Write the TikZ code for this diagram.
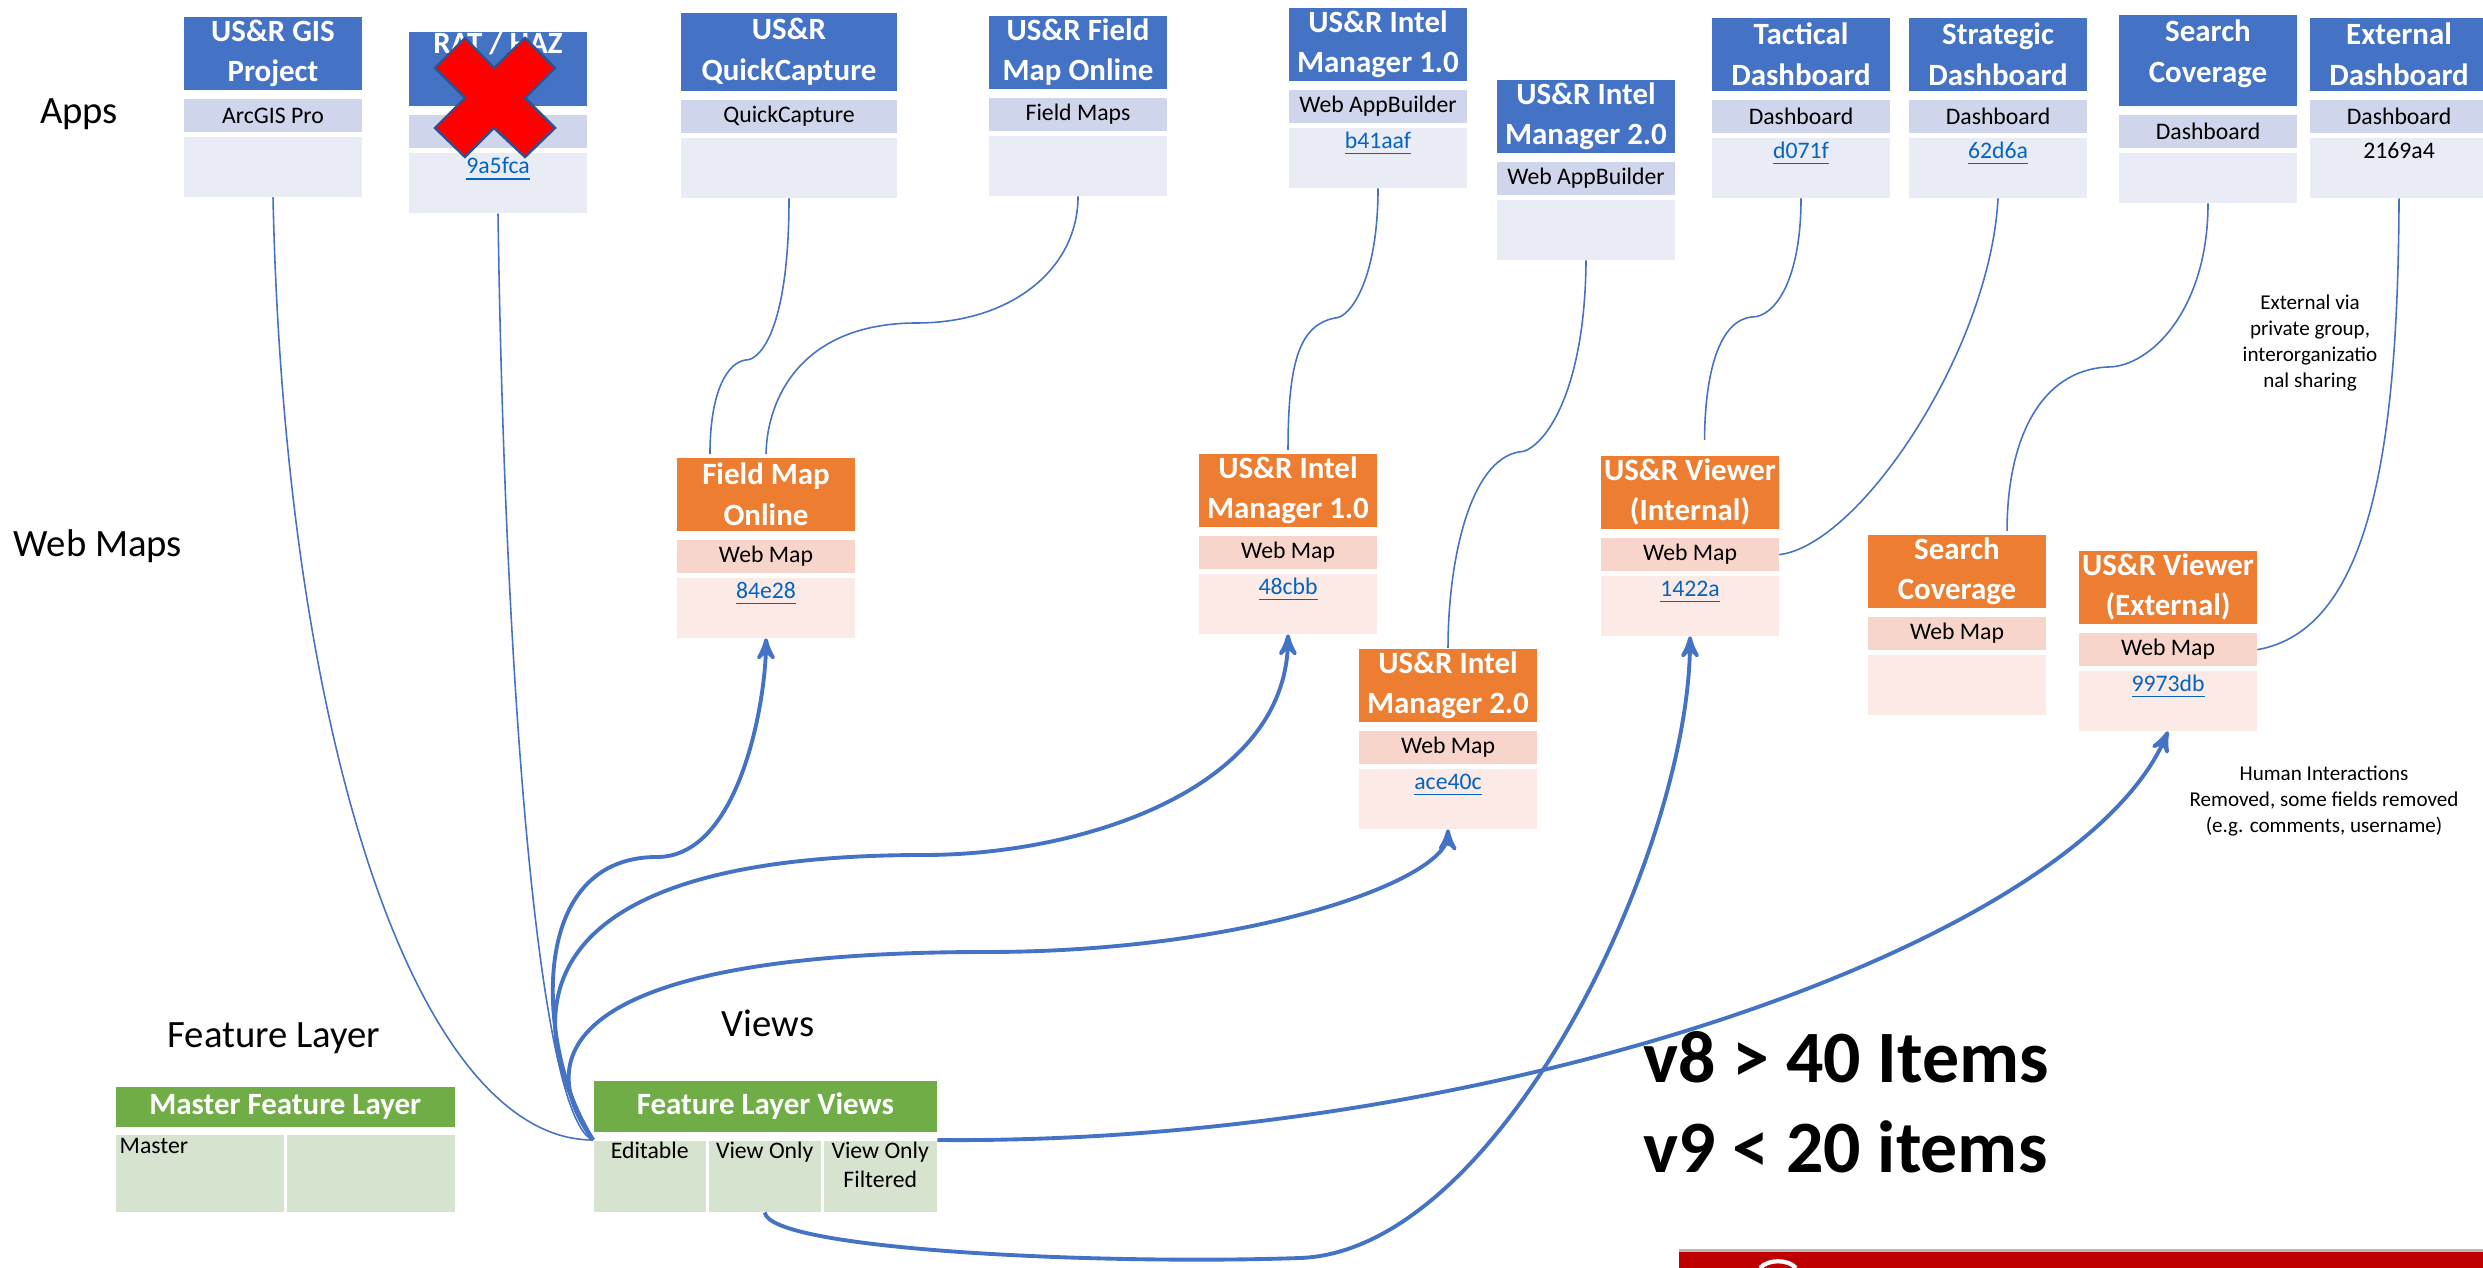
\documentclass[tikz,border=0pt]{standalone}
\usepackage{fontspec}
\setmainfont{Carlito}
\usepackage{tikz}
\usetikzlibrary{arrows,positioning}
\definecolor{bleu}{HTML}{4472C4}
\definecolor{bleuA}{HTML}{CFD5EA}
\definecolor{bleuB}{HTML}{E9EBF5}
\definecolor{orangeT}{HTML}{ED7D31}
\definecolor{orangeA}{HTML}{F8D5CB}
\definecolor{orangeB}{HTML}{FBEAE5}
\definecolor{vert}{HTML}{70AD47}
\definecolor{vertA}{HTML}{D6E3CF}
\definecolor{lien}{HTML}{0563C1}
\definecolor{fleche}{HTML}{4472C4}
\definecolor{bordX}{HTML}{2F528F}
\definecolor{rouge}{HTML}{C00000}
\newcommand{\ftitre}{\fontsize{8.8}{11.5}\selectfont\bfseries}
\newcommand{\fsous}{\fontsize{6.75}{8.2}\selectfont}
\newcommand{\fsection}{\fontsize{11}{13.4}\selectfont}
\newcommand{\fnote}{\fontsize{6}{7.3}\selectfont}
\newcommand{\fgros}{\fontsize{21}{25}\selectfont\bfseries}
\newcommand{\lien}[1]{\textcolor{lien}{\underline{#1}}}
\tikzset{
  case/.style = {align=center, inner sep=0pt, minimum width=1.77cm},
  atitre/.style = {case, fill=bleu, text=white, font=\ftitre,
    minimum height=0.73cm, anchor=north},% application, titre
  amil/.style = {case, fill=bleuA, font=\fsous, minimum height=0.33cm},% application, type
  abas/.style = {case, fill=bleuB, font=\fsous,
    text height=0.21cm, text depth=0.39cm},% application, id
  wtitre/.style = {case, fill=orangeT, text=white, font=\ftitre,
    minimum height=0.73cm, anchor=north},% carte web, titre
  wmil/.style = {case, fill=orangeA, font=\fsous, minimum height=0.33cm},% carte web, type
  wbas/.style = {case, fill=orangeB, font=\fsous,
    text height=0.21cm, text depth=0.39cm},% carte web, id
  vtitre/.style = {case, fill=vert, text=white, font=\ftitre, anchor=north west},% couche
  vcase/.style = {case, fill=vertA, font=\fsous, anchor=north west},% couche, vue
  section/.style = {inner sep=0pt, font=\fsection},
  note/.style = {align=center, inner sep=0pt, font=\fnote},
  gros/.style = {inner sep=0pt, font=\fgros, anchor=base west}
}

\begin{document}
\begin{tikzpicture}[->,>=stealth', x=0.01cm, y=-0.01cm,
  fin/.style = {-, draw=fleche, line width=0.45pt},
  epais/.style = {draw=fleche, line width=1.1pt}]
\useasboundingbox (0,0) rectangle (2483,1268);

\node[section] (apps) at (79,114) {Apps};
\node[section] (wmaps) at (98,546) {Web Maps};
\node[section] (flayer) at (274,1038) {Feature Layer};
\node[section] (views) at (768,1023) {Views};

% applications
\node[atitre] (gisT) at (273,16) {US\&R GIS\\Project};
\node[amil, below=0.08cm of gisT] (gisM) {ArcGIS Pro};
\node[abas, below=0.03cm of gisM] (gisB) {};

\node[atitre] (ratT) at (498,31) {RAT / HAZ\\\strut};
\node[amil, below=0.08cm of ratT] (ratM) {};
\node[abas, below=0.03cm of ratM] (ratB) {\lien{9a5fca}};

\node[atitre, minimum width=2.16cm, minimum height=0.78cm] (qcT) at (789,12) {US\&R\\QuickCapture};
\node[amil, minimum width=2.16cm, below=0.08cm of qcT] (qcM) {QuickCapture};
\node[abas, minimum width=2.16cm, below=0.03cm of qcM] (qcB) {};

\node[atitre] (fmaT) at (1078,15) {US\&R Field\\Map Online};
\node[amil, below=0.08cm of fmaT] (fmaM) {Field Maps};
\node[abas, below=0.03cm of fmaM] (fmaB) {};

\node[atitre] (im1aT) at (1378,7) {US\&R Intel\\Manager 1.0};
\node[amil, below=0.08cm of im1aT] (im1aM) {Web AppBuilder};
\node[abas, below=0.03cm of im1aM] (im1aB) {\lien{b41aaf}};

\node[atitre] (im2aT) at (1586,79) {US\&R Intel\\Manager 2.0};
\node[amil, below=0.08cm of im2aT] (im2aM) {Web AppBuilder};
\node[abas, below=0.03cm of im2aM] (im2aB) {};

\node[atitre] (tacT) at (1801,17) {Tactical\\Dashboard};
\node[amil, below=0.08cm of tacT] (tacM) {Dashboard};
\node[abas, below=0.03cm of tacM] (tacB) {\lien{d071f}};

\node[atitre] (strT) at (1998,17) {Strategic\\Dashboard};
\node[amil, below=0.08cm of strT] (strM) {Dashboard};
\node[abas, below=0.03cm of strM] (strB) {\lien{62d6a}};

\node[atitre, text height=0.675cm, text depth=0.235cm] (scaT) at (2208,14) {Search\\Coverage};
\node[amil, below=0.08cm of scaT] (scaM) {Dashboard};
\node[abas, below=0.03cm of scaM, text depth=0.29cm] (scaB) {};

\node[atitre] (extT) at (2399,17) {External\\Dashboard};
\node[amil, below=0.08cm of extT] (extM) {Dashboard};
\node[abas, below=0.03cm of extM] (extB) {2169a4};

% croix rouge
\filldraw[fill=red, draw=bordX, line width=0.7pt] (435,68) -- (465,38) -- (494,68)
  -- (525,38) -- (555,68) -- (525,98) -- (555,128) -- (525,157) -- (494,128)
  -- (465,157) -- (435,128) -- (465,98) -- cycle;

% cartes web
\node[wtitre] (fmoT) at (766,457) {Field Map\\Online};
\node[wmil, below=0.08cm of fmoT] (fmoM) {Web Map};
\node[wbas, below=0.03cm of fmoM] (fmoB) {\lien{84e28}};

\node[wtitre] (im1wT) at (1288,453) {US\&R Intel\\Manager 1.0};
\node[wmil, below=0.08cm of im1wT] (im1wM) {Web Map};
\node[wbas, below=0.03cm of im1wM] (im1wB) {\lien{48cbb}};

\node[wtitre] (im2wT) at (1448,648) {US\&R Intel\\Manager 2.0};
\node[wmil, below=0.08cm of im2wT] (im2wM) {Web Map};
\node[wbas, below=0.03cm of im2wM] (im2wB) {\lien{ace40c}};

\node[wtitre] (vinT) at (1690,455) {US\&R Viewer\\(Internal)};
\node[wmil, below=0.08cm of vinT] (vinM) {Web Map};
\node[wbas, below=0.03cm of vinM] (vinB) {\lien{1422a}};

\node[wtitre] (scwT) at (1957,534) {Search\\Coverage};
\node[wmil, below=0.08cm of scwT] (scwM) {Web Map};
\node[wbas, below=0.03cm of scwM] (scwB) {};

\node[wtitre] (vexT) at (2168,550) {US\&R Viewer\\(External)};
\node[wmil, below=0.08cm of vexT] (vexM) {Web Map};
\node[wbas, below=0.03cm of vexM] (vexB) {\lien{9973db}};

% couches
\node[vtitre, minimum width=3.39cm, minimum height=0.40cm] (mflT) at (115,1086) {Master Feature Layer};
\node[vcase, minimum width=1.68cm, text width=1.6cm, inner xsep=0.04cm, align=left,
  text height=0.19cm, text depth=0.58cm] (mast) at (115,1134) {Master};
\node[vcase, minimum width=1.68cm, minimum height=0.77cm] (mast2) at (286,1134) {};

\node[vtitre, minimum width=3.43cm, minimum height=0.51cm] (flvT) at (593,1080) {Feature Layer Views};
\node[vcase, minimum width=1.12cm, text height=0.18cm, text depth=0.53cm] (edit) at (593,1140) {Editable};
\node[vcase, minimum width=1.12cm, text height=0.18cm, text depth=0.53cm] (vonly) at (708,1140) {View Only};
\node[vcase, minimum width=1.13cm, text height=0.47cm, text depth=0.24cm] (filt) at (823,1140) {View Only\\Filtered};

\node[note] (extnote) at (2310,343) {External via\\private group,\\interorganizatio\\nal sharing};
\node[note] (humnote) at (2324,801) {Human Interactions\\Removed, some fields removed\\(e.g. comments, username)};

\node[gros] (v8) at (1643,1082) {v8 > 40 Items};
\node[gros] (v9) at (1643,1172) {v9 < 20 items};

% bandeau
\fill[gray!55] (1679,1249) rectangle (2483,1252);
\fill[rouge] (1679,1252) rectangle (2483,1268);
\draw[-, white, line width=1.2pt] (1760,1268) .. controls (1768,1259) and (1788,1259) .. (1796,1268);

% liens applications -> cartes
\draw[fin] (gisB.south) .. controls (285,750) and (420,1140) .. (edit.north west);
\draw[fin] (ratB.south) .. controls (505,700) and (540,1120) .. (edit.north west);
\draw[fin] (qcB.south) .. controls (789,330) and (760,360) .. (746,360)
  .. controls (728,362) and (710,390) .. ([xshift=-0.56cm,yshift=0.03cm]fmoT.north);
\draw[fin] (fmaB.south) .. controls (1078,270) and (1010,323) .. (917,323)
  .. controls (800,323) and (767,400) .. ([yshift=0.03cm]fmoT.north);
\draw[fin] (im1aB.south) .. controls (1378,280) and (1350,318) .. (1335,318)
  .. controls (1300,325) and (1288,360) .. ([yshift=0.03cm]im1wT.north);
\draw[fin] (im2aB.south) .. controls (1585,400) and (1540,452) .. (1519,452)
  .. controls (1470,460) and (1448,560) .. (im2wT.north);
\draw[fin] (tacB.south) .. controls (1801,280) and (1775,317) .. (1752,317)
  .. controls (1720,320) and (1705,370) .. ([xshift=0.145cm,yshift=0.15cm]vinT.north);
\draw[fin] (strB.south) .. controls (1990,350) and (1860,545) .. (vinM.east);
\draw[fin] (scaB.south) .. controls (2208,310) and (2150,367) .. (2108,367)
  .. controls (2040,370) and (2007,440) .. ([xshift=0.5cm,yshift=0.03cm]scwT.north);
\draw[fin] (extB.south) .. controls (2398,450) and (2370,630) .. (vexM.east);

% liens vues -> cartes
\draw[epais] (edit.north west) .. controls (540,1060) and (520,857) .. (657,857)
  .. controls (740,857) and (766,700) .. (fmoB.south);
\draw[epais] (edit.north west) .. controls (510,1000) and (540,855) .. (924,855)
  .. controls (1080,855) and (1287,790) .. (im1wB.south);
\draw[epais] (edit.north west) .. controls (520,1040) and (600,952) .. (986,952)
  .. controls (1250,952) and (1447,880) .. (im2wB.south);
\draw[epais] (vonly.south) .. controls (770,1250) and (1100,1265) .. (1300,1258)
  .. controls (1500,1251) and (1690,850) .. (vinB.south);
\draw[epais] (filt.north east) .. controls (1500,1145) and (2080,940) .. (vexB.south);
\end{tikzpicture}
\end{document}
